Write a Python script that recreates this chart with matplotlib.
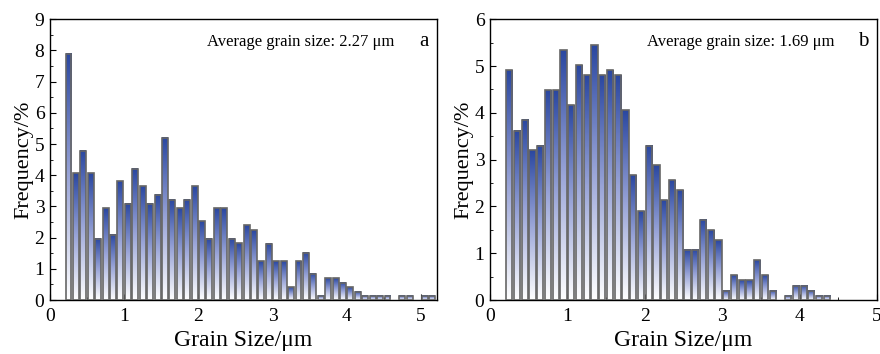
import numpy as np
import matplotlib
matplotlib.use("Agg")
import matplotlib.pyplot as plt
from matplotlib.colors import LinearSegmentedColormap

plt.rcParams['font.family'] = ['Liberation Serif', 'DejaVu Serif']

# bin centres (um) and frequencies (%)
size_a = [0.25, 0.35, 0.45, 0.55, 0.65, 0.75, 0.85, 0.95, 1.05, 1.15,
          1.25, 1.35, 1.45, 1.55, 1.65, 1.75, 1.85, 1.95, 2.05, 2.15,
          2.25, 2.35, 2.45, 2.55, 2.65, 2.75, 2.85, 2.95, 3.05, 3.15,
          3.25, 3.35, 3.45, 3.55, 3.65, 3.75, 3.85, 3.95, 4.05, 4.15,
          4.25, 4.35, 4.45, 4.55, 4.65, 4.75, 4.85, 4.95, 5.05, 5.15]
freq_a = [7.90, 4.07, 4.79, 4.07, 1.96, 2.94, 2.10, 3.80, 3.08, 4.21,
          3.65, 3.08, 3.37, 5.21, 3.22, 2.94, 3.22, 3.65, 2.53, 1.96,
          2.94, 2.94, 1.96, 1.82, 2.39, 2.24, 1.25, 1.81, 1.25, 1.25,
          0.41, 1.25, 1.52, 0.84, 0.13, 0.69, 0.69, 0.55, 0.41, 0.27,
          0.13, 0.13, 0.13, 0.13, 0.0, 0.13, 0.13, 0.0, 0.13, 0.13]

size_b = [0.25, 0.35, 0.45, 0.55, 0.65, 0.75, 0.85, 0.95, 1.05, 1.15,
          1.25, 1.35, 1.45, 1.55, 1.65, 1.75, 1.85, 1.95, 2.05, 2.15,
          2.25, 2.35, 2.45, 2.55, 2.65, 2.75, 2.85, 2.95, 3.05, 3.15,
          3.25, 3.35, 3.45, 3.55, 3.65, 3.75, 3.85, 3.95, 4.05, 4.15,
          4.25, 4.35]
freq_b = [4.91, 3.62, 3.85, 3.20, 3.30, 4.48, 4.48, 5.34, 4.16, 5.02,
          4.80, 5.45, 4.80, 4.91, 4.80, 4.06, 2.67, 1.90, 3.30, 2.88,
          2.13, 2.56, 2.35, 1.07, 1.07, 1.71, 1.49, 1.28, 0.20, 0.53,
          0.42, 0.42, 0.85, 0.53, 0.20, 0.0, 0.09, 0.31, 0.31, 0.20,
          0.09, 0.09]

avg_a = 2.27
avg_b = 1.69

cmap = LinearSegmentedColormap.from_list('grad', ['#ffffff', '#9aa5d8', '#2a47a0'])
grad = np.linspace(0, 1, 256).reshape(-1, 1)


def grad_bars(ax, x, h, w):
    for xi, hi in zip(x, h):
        if hi <= 0:
            continue
        ax.imshow(grad, extent=[xi - w / 2, xi + w / 2, 0, hi], aspect='auto',
                  cmap=cmap, origin='lower', zorder=2, interpolation='bilinear')
    xs = [xi for xi, hi in zip(x, h) if hi > 0]
    hs = [hi for hi in h if hi > 0]
    ax.bar(xs, hs, width=w, fill=False, edgecolor='#666666', linewidth=1.2, zorder=3)


fig = plt.figure(figsize=(8.8, 3.54), dpi=100)
ax1 = fig.add_axes([0.0568, 0.1525, 0.44, 0.793])
ax2 = fig.add_axes([0.5568, 0.1525, 0.44, 0.793])

panels = [(ax1, size_a, freq_a, avg_a, 'a', 5.22, 9),
          (ax2, size_b, freq_b, avg_b, 'b', 5.0, 6)]

for ax, x, h, avg, lab, xmax, ymax in panels:
    grad_bars(ax, x, h, 0.08)
    ax.set_xlim(0, xmax)
    ax.set_ylim(0, ymax)
    ax.set_xticks(range(0, 6))
    ax.set_xticks(np.arange(0, xmax, 0.5), minor=True)
    ax.set_yticks(range(0, ymax + 1))
    ax.set_yticks(np.arange(0, ymax, 0.5), minor=True)
    ax.tick_params(which='both', direction='in', labelsize=14)
    ax.tick_params(axis='x', pad=6)
    ax.tick_params(axis='y', pad=4)
    ax.tick_params(which='major', length=4)
    ax.tick_params(which='minor', length=2)
    for s in ax.spines.values():
        s.set_linewidth(1.0)
    ax.set_xlabel('Grain Size/\u03bcm', fontsize=17, labelpad=3)
    ax.set_ylabel('Frequency/%', fontsize=16, labelpad=1)
    ax.text(0.89, 0.92, 'Average grain size: %.2f \u03bcm' % avg, transform=ax.transAxes,
            ha='right', va='center', fontsize=12)
    ax.text(0.965, 0.92, lab, transform=ax.transAxes, ha='center', va='center', fontsize=15)

fig.savefig('out.png', dpi=100)
